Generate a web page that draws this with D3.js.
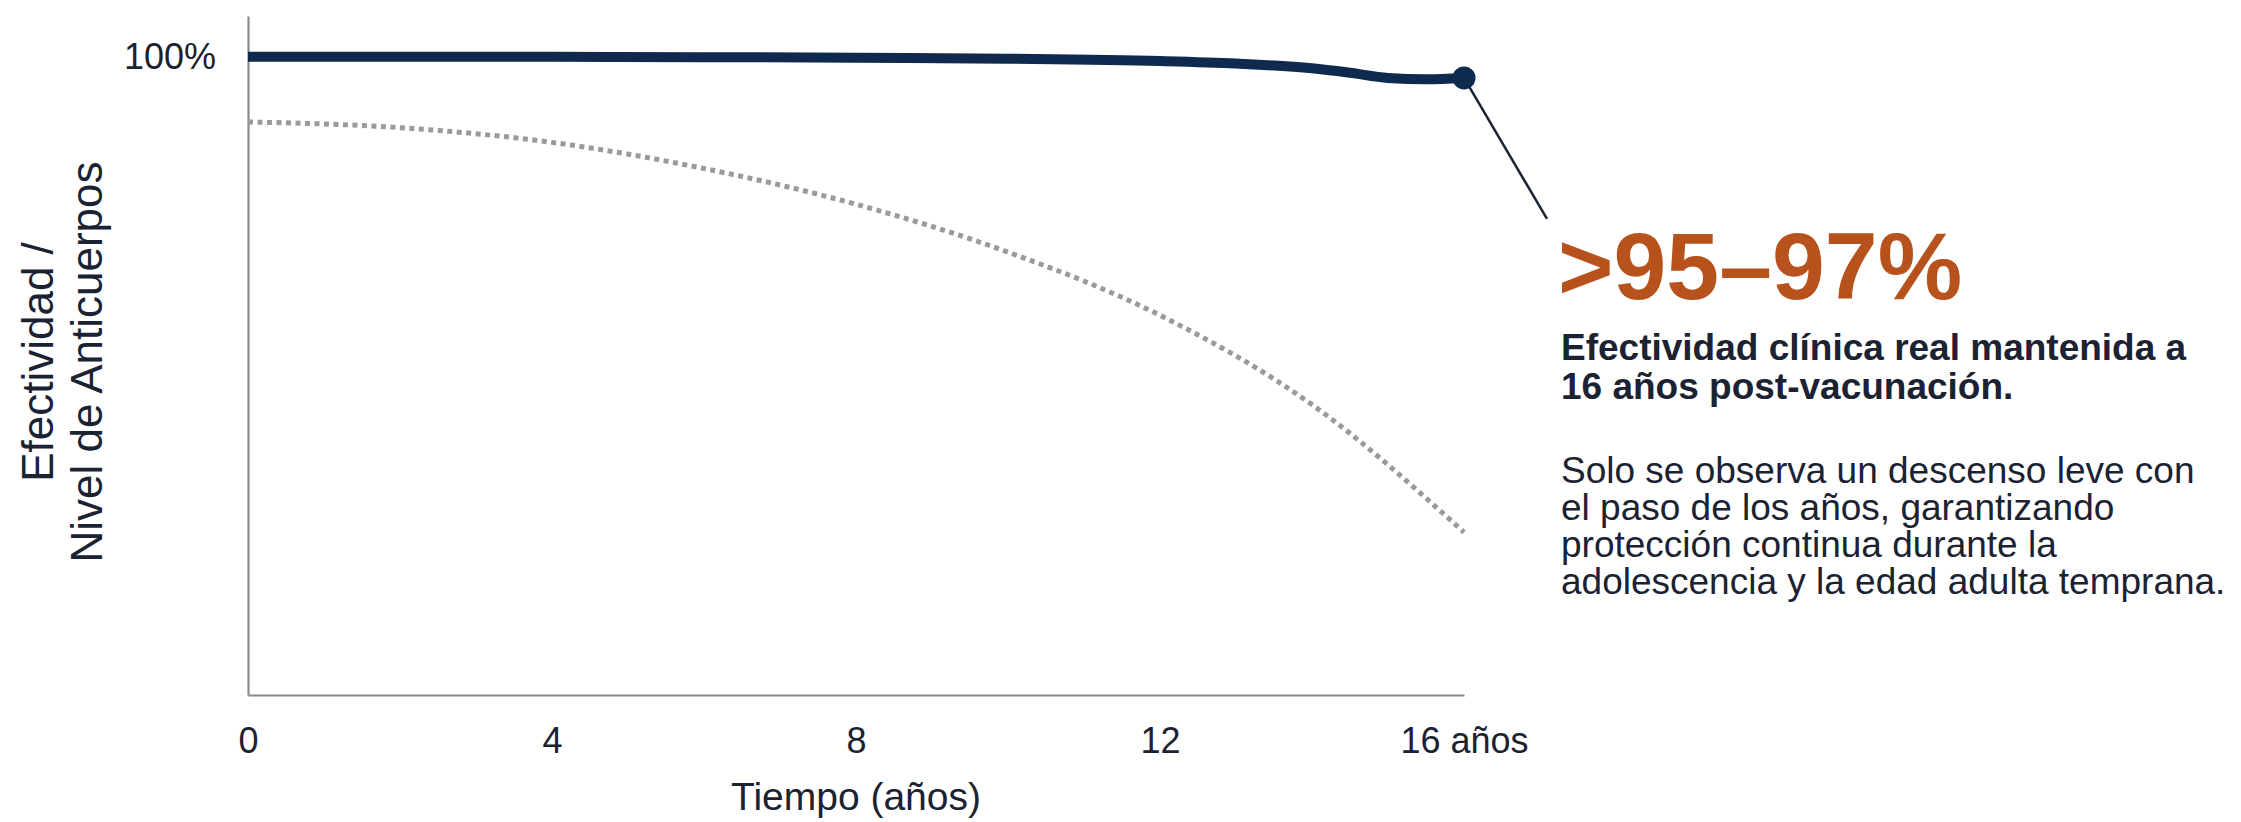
<!DOCTYPE html>
<html>
<head>
<meta charset="utf-8">
<script src="https://cdn.jsdelivr.net/npm/d3@7"></script>
<style>
  html, body { margin: 0; padding: 0; background: #ffffff; }
  svg { display: block; }
  text { font-family: "Liberation Sans", Arial, Helvetica, sans-serif; }
</style>
</head>
<body>
<svg id="chart" width="2241" height="822"></svg>
<script>
// ---- data ----
const effYears = [0, 2, 4, 6, 8, 10, 12, 13, 14, 14.5, 15, 15.5, 16];
const effValues = [100, 100, 100, 99.95, 99.85, 99.7, 99.35, 98.95, 98.2, 97.5, 96.7, 96.5, 96.7];
const abYears = [0, 2, 4, 6, 8, 10, 12, 14, 16];
const abValues = [89.8, 88.9, 86.6, 82.5, 76.9, 69.4, 59.5, 45.5, 25.5];
const xTicks = [0, 4, 8, 12, 16];
const xTickLabels = ["0", "4", "8", "12", "16 años"];
const yTicks = [100];
const yTickLabels = ["100%"];
const xTitle = "Tiempo (años)";
const yTitleLines = ["Efectividad /", "Nivel de Anticuerpos"];
const bigValue = ">95–97%";
const boldLines = ["Efectividad clínica real mantenida a", "16 años post-vacunación."];
const bodyLines = ["Solo se observa un descenso leve con", "el paso de los años, garantizando", "protección continua durante la", "adolescencia y la edad adulta temprana."];

// ---- layout ----
const navy = "#10294f", textDark = "#1b2232", orange = "#b7521c";
const svg = d3.select("#chart");
const x = d3.scaleLinear().domain([0, 16]).range([248, 1464]);
const y = d3.scaleLinear().domain([0, 106.4]).range([695, 16]);

// axes
const xAxis = d3.axisBottom(x).tickValues(xTicks).tickSize(0).tickPadding(32)
  .tickFormat((d, i) => xTickLabels[i]);
const gx = svg.append("g").attr("transform", `translate(0,${y(0)})`).call(xAxis);
const yAxis = d3.axisLeft(y).tickValues(yTicks).tickSize(0).tickPadding(32)
  .tickFormat((d, i) => yTickLabels[i]);
const gy = svg.append("g").attr("transform", `translate(${x(0)},0)`).call(yAxis);
[gx, gy].forEach(g => {
  g.select(".domain").attr("stroke", "#8a8a8a").attr("stroke-width", 2.2);
  g.selectAll("text").attr("fill", textDark).style("font-size", "36px")
    .style("font-family", '"Liberation Sans", Arial, sans-serif');
});

// axis titles
svg.append("text").attr("x", (x(0) + x(16)) / 2).attr("y", 810)
  .attr("text-anchor", "middle").attr("fill", textDark)
  .style("font-size", "39px").text(xTitle);
const yt = svg.append("text").attr("transform", "translate(53,362) rotate(-90)")
  .attr("text-anchor", "middle").attr("fill", textDark).style("font-size", "44px");
yTitleLines.forEach((l, i) => yt.append("tspan").attr("x", 0).attr("dy", i === 0 ? 0 : 49).text(l));

// antibody dotted curve
const line = d3.line().curve(d3.curveMonotoneX);
svg.append("path")
  .attr("d", line(abYears.map((t, i) => [x(t), y(abValues[i])])))
  .attr("fill", "none").attr("stroke", "#9a9a9a").attr("stroke-width", 5)
  .attr("stroke-dasharray", "5 4.5");

// effectiveness curve
svg.append("path")
  .attr("d", line(effYears.map((t, i) => [x(t), y(effValues[i])])))
  .attr("fill", "none").attr("stroke", navy).attr("stroke-width", 10)
  .attr("stroke-linecap", "butt");

// end point + leader
const lastT = effYears[effYears.length - 1], lastV = effValues[effValues.length - 1];
svg.append("line").attr("x1", x(lastT)).attr("y1", y(lastV))
  .attr("x2", x(lastT) + 83).attr("y2", y(lastV) + 141)
  .attr("stroke", "#1a2433").attr("stroke-width", 2.5);
svg.append("circle").attr("cx", x(lastT)).attr("cy", y(lastV)).attr("r", 11.5).attr("fill", navy);

// annotation text
svg.append("text").attr("x", 1558).attr("y", 299).attr("fill", orange)
  .style("font-size", "95px").style("font-weight", "bold").text(bigValue);
boldLines.forEach((l, i) => svg.append("text").attr("x", 1561).attr("y", 360 + i * 39)
  .attr("fill", textDark).style("font-size", "37px").style("font-weight", "bold").text(l));
bodyLines.forEach((l, i) => svg.append("text").attr("x", 1561).attr("y", 483 + i * 37)
  .attr("fill", textDark).style("font-size", "37px").text(l));
</script>
</body>
</html>
